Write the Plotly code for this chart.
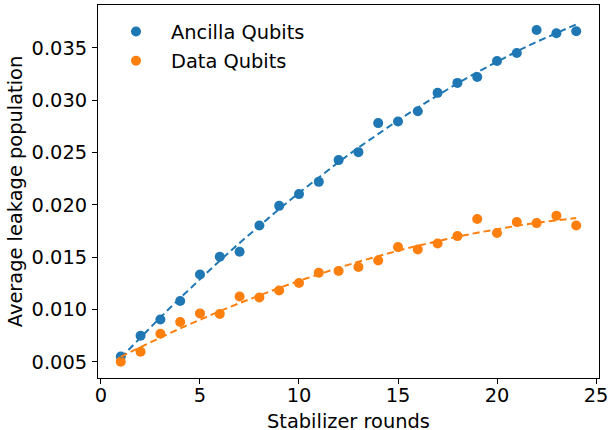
import numpy as np
import plotly.graph_objects as go

rounds = list(range(1, 25))
ancilla = [0.00553, 0.00751, 0.00906, 0.01082, 0.01336, 0.01505, 0.01553, 0.01803,
           0.01991, 0.02103, 0.02220, 0.02428, 0.02504, 0.02781, 0.02796, 0.02895,
           0.03070, 0.03165, 0.03222, 0.03375, 0.03451, 0.03671, 0.03639, 0.03658]
data_q = [0.00503, 0.00598, 0.00770, 0.00882, 0.00964, 0.00958, 0.01126, 0.01116,
          0.01183, 0.01254, 0.01352, 0.01368, 0.01407, 0.01469, 0.01597, 0.01574,
          0.01632, 0.01702, 0.01865, 0.01731, 0.01836, 0.01826, 0.01896, 0.01803]

x_ticks = [0, 5, 10, 15, 20, 25]
y_ticks = [0.005, 0.010, 0.015, 0.020, 0.025, 0.030, 0.035]

blue = "#1f77b4"
orange = "#ff7f0e"

xs = np.array(rounds, dtype=float)
fit_a = np.polyval(np.polyfit(xs, ancilla, 2), xs)
fit_d = np.polyval(np.polyfit(xs, data_q, 2), xs)

fig = go.Figure()
fig.add_trace(go.Scatter(x=rounds, y=ancilla, mode="markers", name="Ancilla Qubits",
                         marker=dict(color=blue, size=10), legendgroup="a"))
fig.add_trace(go.Scatter(x=rounds, y=data_q, mode="markers", name="Data Qubits",
                         marker=dict(color=orange, size=10), legendgroup="d"))
fig.add_trace(go.Scatter(x=rounds, y=fit_a, mode="lines", showlegend=False,
                         line=dict(color=blue, width=2, dash="7px,4px")))
fig.add_trace(go.Scatter(x=rounds, y=fit_d, mode="lines", showlegend=False,
                         line=dict(color=orange, width=2, dash="7px,4px")))

font = dict(family="DejaVu Sans", size=19.4, color="black")
fig.update_layout(
    width=610, height=430,
    margin=dict(l=98, r=11, t=5, b=52),
    paper_bgcolor="white", plot_bgcolor="white",
    font=font,
    showlegend=True,
    legend=dict(x=0.006, y=0.98, xanchor="left", yanchor="top",
                bgcolor="rgba(0,0,0,0)", font=font,
                tracegroupgap=1, itemwidth=60),
    xaxis=dict(range=[-0.15, 25.15], tickvals=x_ticks, ticktext=[str(v) for v in x_ticks],
               showgrid=False, zeroline=False, showline=True, linecolor="black",
               linewidth=1, mirror=True, ticks="outside", ticklen=5, tickcolor="black",
               automargin=False, tickfont=font, ticklabelstandoff=-5),
    yaxis=dict(range=[0.00347, 0.03909], tickvals=y_ticks,
               ticktext=[f"{v:.3f}" for v in y_ticks],
               showgrid=False, zeroline=False, showline=True, linecolor="black",
               linewidth=1, mirror=True, ticks="outside", ticklen=5, tickcolor="black",
               automargin=False, tickfont=font, ticklabelstandoff=1,
               title=dict(text="Average leakage population", font=font, standoff=3)),
    annotations=[dict(text="Stabilizer rounds", xref="paper", yref="paper",
                      x=0.5, y=0, xanchor="center", yanchor="middle",
                      yshift=-43, showarrow=False, font=font)],
)
fig.write_html("out.html", config={"displayModeBar": False},
               post_script="document.body.style.margin='0';")
